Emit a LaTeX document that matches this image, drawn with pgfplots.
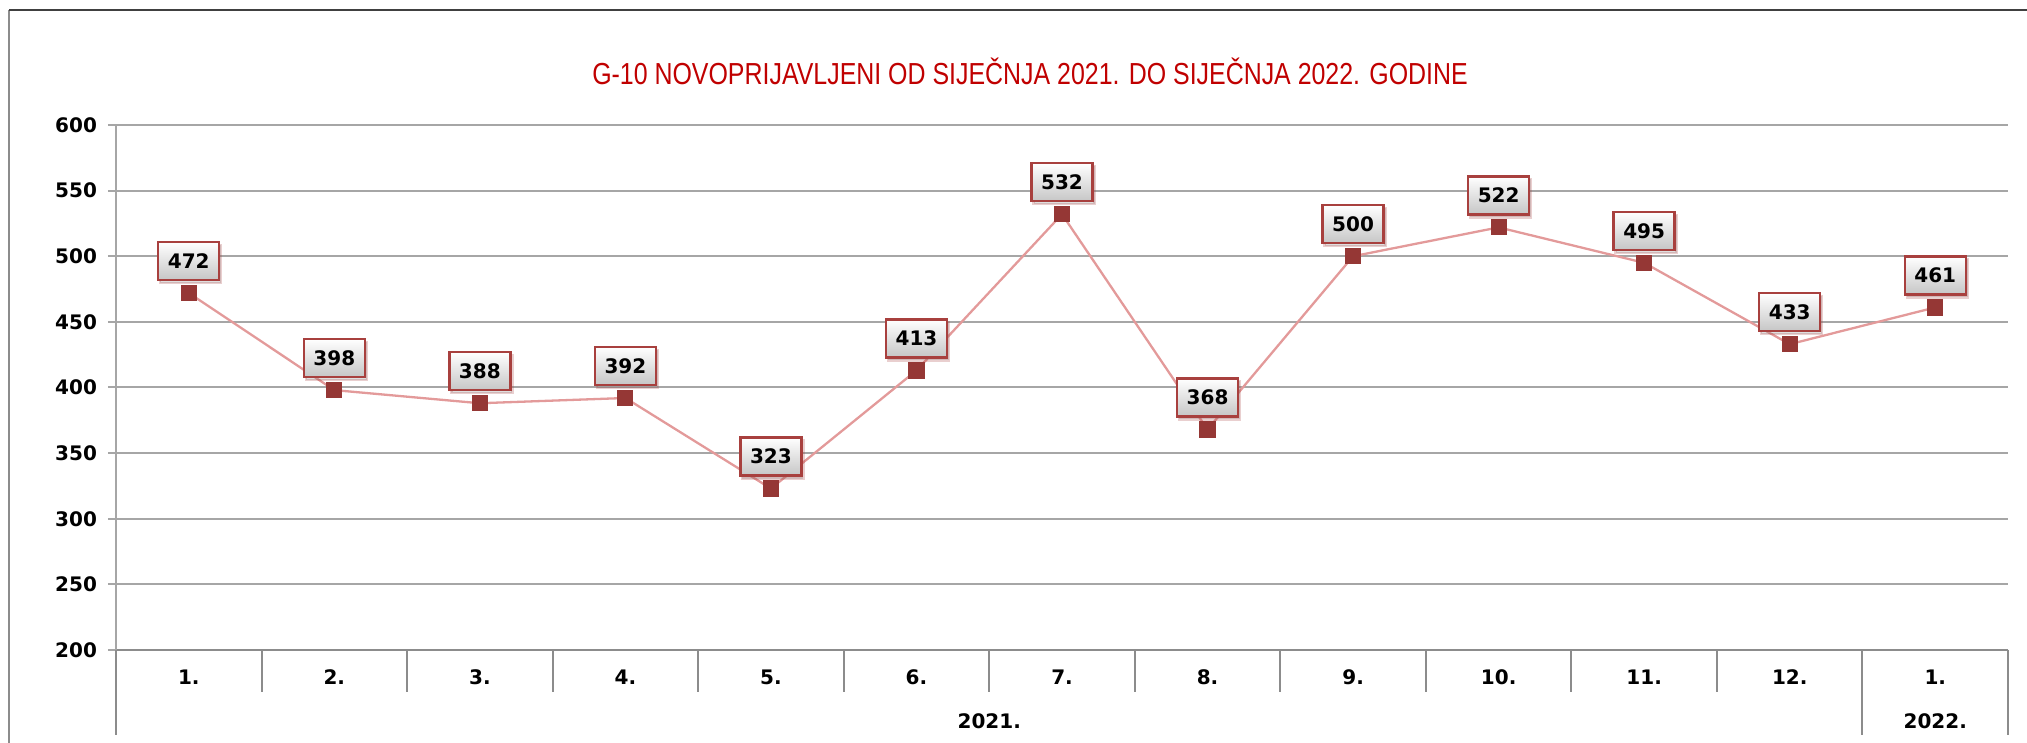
\documentclass[border=0pt]{standalone}
\usepackage{pgfplots}
\pgfplotsset{compat=1.18}
\usepackage{fontspec}
\setmainfont{DejaVu Sans}
\newfontfamily\titlefont[FakeStretch=0.82]{Liberation Sans}
\usetikzlibrary{shadows}
\definecolor{titlered}{HTML}{C00000}
\definecolor{linered}{HTML}{E39A9A}
\definecolor{markred}{HTML}{953735}
\definecolor{boxred}{HTML}{A8403E}
\definecolor{gridgray}{HTML}{A6A6A6}
\definecolor{axgray}{HTML}{8C8C8C}

\pgfplotstableread{
x y
0 472
1 398
2 388
3 392
4 323
5 413
6 532
7 368
8 500
9 522
10 495
11 433
12 461
}\novi

\begin{document}
\begin{tikzpicture}
\useasboundingbox (-58pt,-46.5pt) rectangle (955.5pt,325pt);
% outer frame
\draw[axgray, line width=1pt] (-53.5pt,-50pt) -- (-53.5pt,320pt);
\draw[black!75, line width=1pt] (-53.5pt,320pt) -- (960pt,320pt);

\begin{axis}[
    name=ax, at={(0,0)}, anchor=south west,
    scale only axis,
    width=946pt, height=262.5pt,
    xmin=-0.5, xmax=12.5,
    ymin=200, ymax=600,
    ytick distance=50,
    xtick={0,...,12},
    xticklabels={1.,2.,3.,4.,5.,6.,7.,8.,9.,10.,11.,12.,1.},
    axis x line*=bottom, axis y line*=left,
    x axis line style={axgray, line width=1pt, -},
    y axis line style={gridgray, line width=0.6pt, -},
    ymajorgrids,
    grid style={gridgray, line width=1pt},
    major x tick style={draw=none},
    major y tick style={gridgray, line width=1pt},
    major tick length=4pt,
    tick align=outside,
    /pgf/number format/assume math mode=true,
    tick label style={font=\bfseries\fontsize{10}{10}\selectfont},
    xticklabel style={anchor=base, yshift=-13.5pt},
    yticklabel style={anchor=east, xshift=-2pt},
    clip=false,
    nodes near coords,
    every node near coord/.style={
        anchor=center, yshift=16pt,
        font=\bfseries\fontsize{10}{10}\selectfont, text=black,
        draw=boxred, line width=1.2pt,
        top color=white, bottom color=gray!45,
        minimum width=30.5pt, minimum height=19pt, inner sep=0pt,
        drop shadow={opacity=0.25, shadow xshift=1pt, shadow yshift=-1.5pt}
    },
]
\addplot[color=linered, line width=1.15pt, mark=square*,
    mark size=3.8pt, mark options={fill=markred, draw=markred, line width=0pt}]
    table[x=x, y=y] {\novi};
\end{axis}

% category separators below the axis
\foreach \k in {1,...,11} \draw[axgray, line width=1pt] (\k*72.769pt,0) -- ++(0,-21pt);
\foreach \xx in {0pt,873.23pt,946pt} \draw[axgray, line width=1pt] (\xx,0) -- ++(0,-42.5pt);
\node[anchor=base, font=\bfseries\fontsize{10}{10}\selectfont] at (436.6pt,-39pt) {2021.};
\node[anchor=base, font=\bfseries\fontsize{10}{10}\selectfont] at (909.6pt,-39pt) {2022.};

% title
\node[text=titlered, font=\titlefont\fontsize{15.2}{15.2}\selectfont] at (457pt,289.5pt)
    {G-10 NOVOPRIJAVLJENI OD SIJEČNJA 2021. DO SIJEČNJA 2022. GODINE};
\end{tikzpicture}
\end{document}
